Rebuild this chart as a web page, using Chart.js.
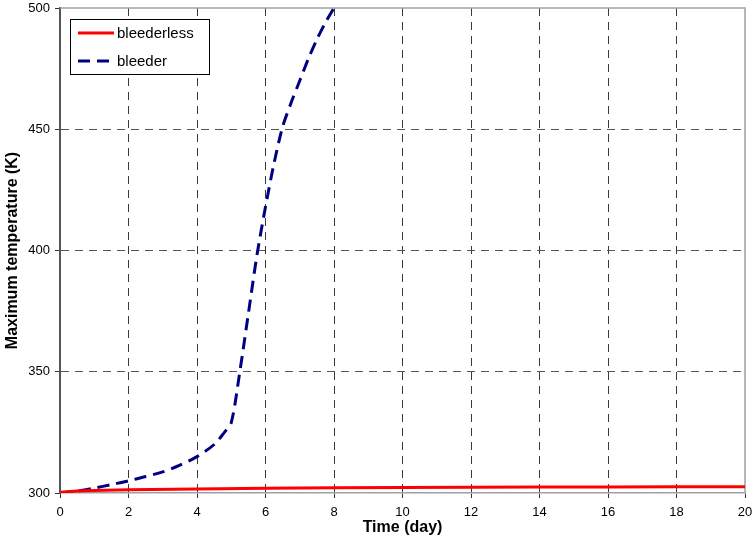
<!DOCTYPE html>
<html>
<head>
<meta charset="utf-8">
<title>Maximum temperature</title>
<script src="https://cdn.jsdelivr.net/npm/chart.js@4/dist/chart.umd.min.js"></script>
<style>
    html, body { margin: 0; padding: 0; background: #fff; }
    #wrap { width: 752px; height: 539px; }
</style>
</head>
<body>
<div id="wrap"><canvas id="tempChart"></canvas></div>
<script>
// values
const bleederlessTime = [0, 0.5, 1, 2, 4, 6, 8, 10, 12, 14, 16, 18, 20];
const bleederlessTemp = [300.3, 300.8, 301.0, 301.3, 301.7, 302.0, 302.2, 302.3, 302.4, 302.5, 302.5, 302.6, 302.6];

const bleederTime = [0, 0.5, 1, 1.5, 2, 2.5, 3, 3.5, 4, 4.5, 4.8, 5, 5.25, 5.5, 5.75, 6, 6.25, 6.5, 6.75, 7, 7.25, 7.5, 7.75, 8];
const bleederTemp = [300, 300.8, 302, 303.5, 305, 306.8, 308.7, 311.5, 315, 320, 325, 329, 350, 374, 398, 418, 436, 451, 461, 470, 479, 487, 494, 500];

const xTicks = [0, 2, 4, 6, 8, 10, 12, 14, 16, 18, 20];
const yTicks = [300, 350, 400, 450, 500];

const FONT = 'Arial, "Liberation Sans", sans-serif';

function toPoints(xs, ys) {
    return xs.map((x, i) => ({ x: x, y: ys[i] }));
}

// keep the edge labels from pushing the plot area in
function noLabelPadding(scale) {
    scale.paddingTop = 0;
    scale.paddingBottom = 0;
    scale.paddingLeft = 0;
    scale.paddingRight = 0;
}

// plot frame (top/right edges) drawn under the data
const framePlugin = {
    id: 'frame',
    beforeDatasetsDraw(chart) {
        const { ctx, chartArea: a } = chart;
        ctx.save();
        ctx.strokeStyle = '#a0a0a0';
        ctx.lineWidth = 1.5;
        ctx.beginPath();
        ctx.moveTo(a.left, a.top);
        ctx.lineTo(a.right, a.top);
        ctx.lineTo(a.right, a.bottom);
        ctx.stroke();
        ctx.restore();
    }
};

// legend box inside the plot, top-left
const boxLegend = {
    id: 'boxLegend',
    afterDraw(chart) {
        const ctx = chart.ctx;
        const x = 70.5, y = 19.5, w = 139, h = 55;
        ctx.save();
        ctx.fillStyle = '#fff';
        ctx.fillRect(x, y, w, h);
        ctx.strokeStyle = '#000';
        ctx.lineWidth = 1;
        ctx.strokeRect(x, y, w, h);
        chart.data.datasets.forEach((ds, i) => {
            const ly = 33 + i * 28;
            ctx.strokeStyle = ds.borderColor;
            ctx.lineWidth = ds.borderWidth;
            ctx.setLineDash(ds.borderDash || []);
            ctx.beginPath();
            ctx.moveTo(78, ly);
            ctx.lineTo(114, ly);
            ctx.stroke();
            ctx.setLineDash([]);
            ctx.fillStyle = '#000';
            ctx.font = '15px ' + FONT;
            ctx.textBaseline = 'middle';
            ctx.fillText(ds.label, 117, ly + 1);
        });
        ctx.restore();
    }
};

const ctx = document.getElementById('tempChart').getContext('2d');
new Chart(ctx, {
    type: 'line',
    data: {
        datasets: [
            {
                label: 'bleederless',
                data: toPoints(bleederlessTime, bleederlessTemp),
                borderColor: '#ff0000',
                borderWidth: 3,
                pointRadius: 0,
                tension: 0
            },
            {
                label: 'bleeder',
                data: toPoints(bleederTime, bleederTemp),
                borderColor: '#000080',
                borderWidth: 3,
                borderDash: [12, 7],
                pointRadius: 0,
                tension: 0.3
            }
        ]
    },
    options: {
        responsive: true,
        maintainAspectRatio: false,
        animation: false,
        layout: { padding: { top: 8, right: 7, left: 0, bottom: 0 } },
        plugins: {
            legend: { display: false },
            tooltip: { enabled: false }
        },
        scales: {
            x: {
                type: 'linear',
                min: 0,
                max: 20,
                afterBuildTicks: scale => { scale.ticks = xTicks.map(v => ({ value: v })); },
                afterFit: scale => { scale.height = 46; noLabelPadding(scale); },
                ticks: {
                    color: '#000',
                    font: { family: FONT, size: 13 },
                    padding: 7,
                    maxRotation: 0
                },
                grid: {
                    color: c => (c.index === 0 || c.index === xTicks.length - 1) ? 'rgba(0,0,0,0)' : '#3a3a3a',
                    lineWidth: 1,
                    tickLength: 5,
                    tickColor: '#333',
                    tickBorderDash: []
                },
                border: { display: true, color: '#a0a0a0', width: 1.5, dash: [8, 6] },
                title: {
                    display: true,
                    text: 'Time (day)',
                    color: '#000',
                    font: { family: FONT, size: 16, weight: 'bold' },
                    padding: { top: 0, bottom: 2 }
                }
            },
            y: {
                type: 'linear',
                min: 300,
                max: 500,
                afterBuildTicks: scale => { scale.ticks = yTicks.map(v => ({ value: v })); },
                afterFit: scale => { scale.width = 60; noLabelPadding(scale); },
                ticks: {
                    color: '#000',
                    font: { family: FONT, size: 13 },
                    padding: 5
                },
                grid: {
                    color: c => (c.index === 0 || c.index === yTicks.length - 1) ? 'rgba(0,0,0,0)' : '#555',
                    lineWidth: 1,
                    tickLength: 5,
                    tickColor: '#333',
                    tickBorderDash: []
                },
                border: { display: true, color: '#555', width: 2, dash: [8, 6] },
                title: {
                    display: true,
                    text: 'Maximum temperature (K)',
                    color: '#000',
                    font: { family: FONT, size: 16, weight: 'bold' },
                    padding: { top: 3, bottom: 0 }
                }
            }
        }
    },
    plugins: [framePlugin, boxLegend]
});
</script>
</body>
</html>
